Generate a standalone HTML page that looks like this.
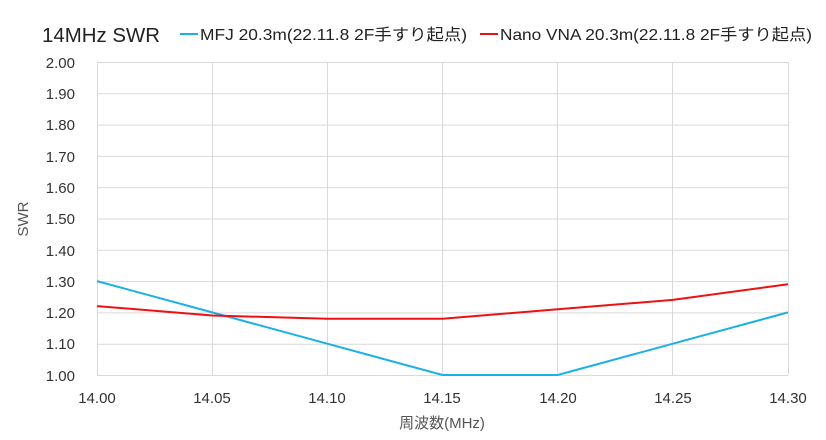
<!DOCTYPE html>
<html><head><meta charset="utf-8"><style>body{margin:0;background:#fff}svg{display:block}</style></head><body>
<svg width="826" height="440" xmlns="http://www.w3.org/2000/svg" font-family="'Liberation Sans','Noto Sans CJK JP',sans-serif">
<rect width="826" height="440" fill="#fff"/>
<g stroke="#d9d9d9" stroke-width="1">
<line x1="97" x2="788" y1="62.5" y2="62.5"/><line x1="97" x2="788" y1="93.8" y2="93.8"/><line x1="97" x2="788" y1="125.1" y2="125.1"/><line x1="97" x2="788" y1="156.4" y2="156.4"/><line x1="97" x2="788" y1="187.7" y2="187.7"/><line x1="97" x2="788" y1="219" y2="219"/><line x1="97" x2="788" y1="250.3" y2="250.3"/><line x1="97" x2="788" y1="281.6" y2="281.6"/><line x1="97" x2="788" y1="312.9" y2="312.9"/><line x1="97" x2="788" y1="344.2" y2="344.2"/><line x1="97" x2="788" y1="375.5" y2="375.5"/>
<line x1="97.5" x2="97.5" y1="62" y2="375"/><line x1="212.5" x2="212.5" y1="62" y2="375"/><line x1="327.5" x2="327.5" y1="62" y2="375"/><line x1="442.5" x2="442.5" y1="62" y2="375"/><line x1="557.5" x2="557.5" y1="62" y2="375"/><line x1="672.5" x2="672.5" y1="62" y2="375"/><line x1="788.5" x2="788.5" y1="62" y2="375"/>
</g>
<polyline fill="none" stroke="#1ab0ea" stroke-width="2" points="97,281.1 212.2,312.4 327.3,343.7 442.5,375 557.7,375 672.8,343.7 788,312.4"/>
<polyline fill="none" stroke="#ee1111" stroke-width="2" points="97,306.1 212.2,315.5 327.3,318.7 442.5,318.7 557.7,309.3 672.8,299.9 788,284.2"/>
<g font-size="15" fill="#333" text-anchor="end">
<text x="75" y="68">2.00</text><text x="75" y="99">1.90</text><text x="75" y="130">1.80</text><text x="75" y="162">1.70</text><text x="75" y="193">1.60</text><text x="75" y="224">1.50</text><text x="75" y="256">1.40</text><text x="75" y="287">1.30</text><text x="75" y="318">1.20</text><text x="75" y="349">1.10</text><text x="75" y="381">1.00</text>
</g>
<g font-size="15" fill="#333" text-anchor="middle">
<text x="97" y="403">14.00</text><text x="212" y="403">14.05</text><text x="327" y="403">14.10</text><text x="442" y="403">14.15</text><text x="558" y="403">14.20</text><text x="673" y="403">14.25</text><text x="788" y="403">14.30</text>
<text x="442" y="428" fill="#555">周波数(MHz)</text>
</g>
<text x="28" y="219" font-size="15" fill="#555" text-anchor="middle" transform="rotate(-90 28 219)">SWR</text>
<text x="42" y="42" font-size="20" fill="#222" textLength="118" lengthAdjust="spacingAndGlyphs">14MHz SWR</text>
<line x1="180" x2="198" y1="34" y2="34" stroke="#1ab0ea" stroke-width="2"/>
<text x="200" y="40" font-size="16" fill="#222" textLength="267" lengthAdjust="spacingAndGlyphs">MFJ 20.3m(22.11.8 2F手すり起点)</text>
<line x1="480" x2="498" y1="34" y2="34" stroke="#ee1111" stroke-width="2"/>
<text x="500" y="40" font-size="16" fill="#222" textLength="312" lengthAdjust="spacingAndGlyphs">Nano VNA 20.3m(22.11.8 2F手すり起点)</text>
</svg>
</body></html>
